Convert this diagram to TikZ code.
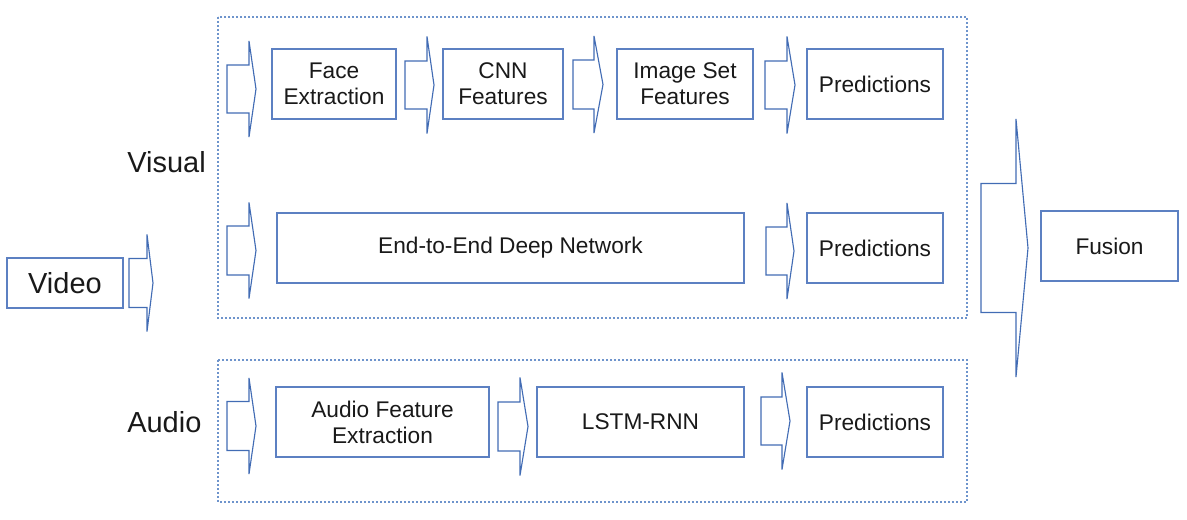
\documentclass[tikz,border=0pt]{standalone}
\usepackage{fontspec}
\setmainfont{Liberation Sans}
\usepackage{tikz}
\usetikzlibrary{positioning}
\definecolor{boxblue}{RGB}{92,128,194}
\definecolor{arrblue}{RGB}{66,108,180}
\definecolor{dotblue}{RGB}{110,148,204}
\definecolor{txt}{RGB}{25,25,25}
\tikzset{
  stage/.style={draw=boxblue, line width=0.85pt, rectangle, inner sep=0pt, outer sep=0pt,
    minimum height=52.5pt, align=center, text=txt,
    font=\fontsize{17}{19.5}\selectfont},
  biglabel/.style={text=txt, inner sep=0pt, font=\fontsize{21.75}{26}\selectfont},
  group/.style={draw=dotblue, line width=1.1pt, dash pattern=on 1.4pt off 1.6pt},
  blockarr/.style={draw=arrblue, line width=0.85pt, line join=miter}
}
% block arrow: {x0}{yc}{x head}{x tip}{body half}{head half}
\newcommand{\barrow}[6]{%
  \draw[blockarr] (#1,#2-#5) -- (#3,#2-#5) -- (#3,#2-#6) -- (#4,#2)
    -- (#3,#2+#6) -- (#3,#2+#5) -- (#1,#2+#5) -- cycle;}

\begin{document}
\begin{tikzpicture}[x=0.75pt, y=-0.75pt]
\useasboundingbox (0,0) rectangle (1187,520);

% groups
\draw[group] (218,17) rectangle (967,318);
\draw[group] (218,360) rectangle (967,502);
\node[biglabel, anchor=base west] (vis) at (127,173) {Visual};
\node[biglabel, anchor=base west] (aud) at (127,432) {Audio};

% input
\node[stage, minimum width=87pt, minimum height=37.5pt, font=\fontsize{21.75}{26}\selectfont] (video) at (65,283) {Video};
\barrow{129}{283}{147}{153}{24.5}{48.5}

% visual, first row
\node[stage, minimum width=93pt] (face) at (334,84) {Face\\Extraction};
\node[stage, minimum width=90pt] (cnn) at (503,84) {CNN\\Features};
\node[stage, minimum width=102pt] (imgset) at (685,84) {Image Set\\Features};
\node[stage, minimum width=102pt] (predA) at (875,84) {Predictions};
\barrow{227}{89}{249}{256}{24}{48}
\barrow{405}{85}{427}{434}{24}{48.5}
\barrow{573}{84.5}{594}{603}{24.5}{48.5}
\barrow{765}{85}{787}{795}{24}{48.5}

% visual, second row
\node[stage, minimum width=350.25pt] (deep) at (510.5,248) {End-to-End Deep Network};
\node[stage, minimum width=102pt] (predB) at (875,248) {Predictions};
\barrow{227}{250.5}{249}{256}{24.5}{48}
\barrow{766}{251}{787}{794}{24}{48}

% audio
\node[stage, minimum width=159.75pt] (afe) at (382.5,422) {Audio Feature\\Extraction};
\node[stage, minimum width=155.25pt] (lstm) at (640.5,422) {LSTM-RNN};
\node[stage, minimum width=102pt] (predC) at (875,422) {Predictions};
\barrow{227}{426}{249}{256}{24.5}{48}
\barrow{498}{426.5}{520}{528}{24.5}{49}
\barrow{761}{421}{782}{790}{24}{48.5}

% fusion
\barrow{981}{248}{1016}{1028}{64.5}{129}
\node[stage, minimum width=102.75pt] (fusion) at (1109.5,246) {Fusion};
\end{tikzpicture}
\end{document}
